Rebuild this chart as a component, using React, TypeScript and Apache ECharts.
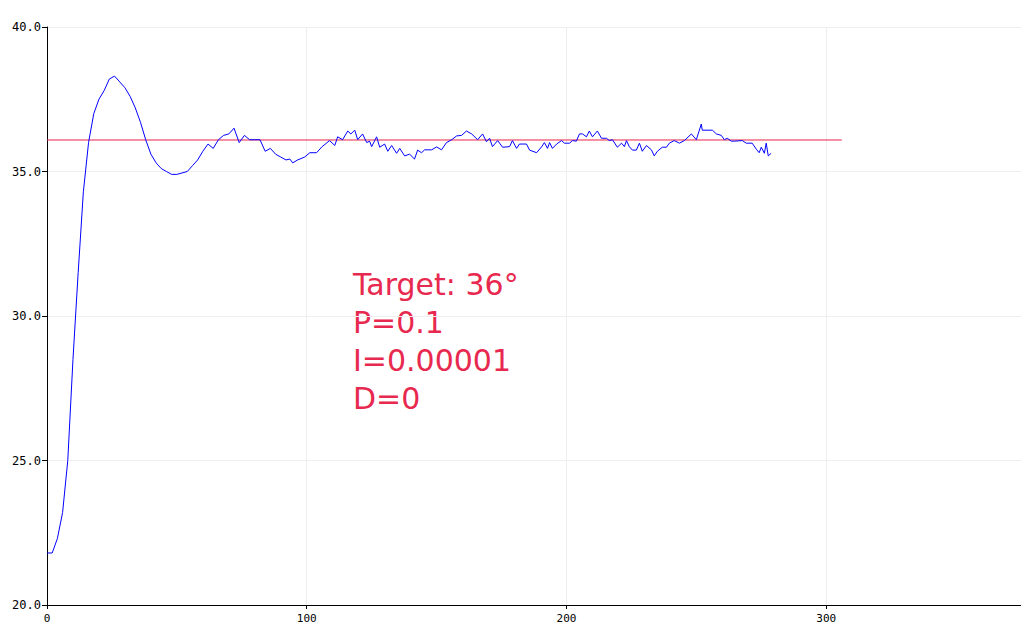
import React, { useEffect, useRef } from 'react';
import * as echarts from 'echarts';

const xs: number[] = [
  0, 2, 4, 6, 8, 10, 12, 14, 16, 18, 20, 22, 24, 26, 28, 30, 32, 34, 36, 38,
  40, 42, 44, 46, 48, 50, 52, 54, 56, 58, 60, 62, 64, 66, 68, 70, 72, 74, 76, 78,
  80, 82, 84, 86, 88, 90, 92, 93.5, 94.6, 96.5, 99.2, 101.2, 103.8, 105.8, 108.8, 110.8,
  111.9, 113.8, 115.8, 117, 118.5, 119.6, 121.5, 123.1, 124.2, 125, 126.9, 128.1, 130,
  131.2, 132.7, 134.6, 135.8, 137.7, 139.6, 141.5, 142.7, 144.2, 145.4, 148.1, 150,
  151.9, 153.8, 155.8, 157.7, 159.6, 161.5, 163.5, 165.8, 167.7, 169.2, 170.4, 171.5,
  173.5, 175.4, 178.1, 179.2, 180.8, 181.9, 184.6, 185.8, 188.5, 190.4, 191.5, 192.7,
  193.5, 194.6, 196.2, 198.1, 199.2, 201.2, 202.3, 203.8, 205, 206.2, 207.7, 208.8,
  210, 211.9, 213.5, 215.4, 216.5, 217.7, 219.6, 221.2, 222.3, 223.1, 224.2, 225.4,
  226.9, 228.1, 229.2, 230.8, 232.7, 233.8, 235, 236.9, 238.5, 239.6, 241.5, 243.5,
  245.4, 248.1, 250, 251.9, 252.3, 256.2, 257.7, 259.6, 260.8, 261.9, 263.5, 264.6,
  267.7, 269.2, 271.5, 273.1, 274.2, 275, 276.2, 276.9, 277.7, 278.8,
];

const temps: number[] = [
  21.8, 21.8, 22.3, 23.2, 25.0, 28.5, 31.5, 34.3, 36.0, 37.0, 37.5, 37.8, 38.2, 38.3, 38.1, 37.9, 37.6, 37.2, 36.7, 36.1,
  35.6, 35.3, 35.1, 35.0, 34.9, 34.9, 34.95, 35.0, 35.2, 35.4, 35.7, 35.95, 35.8, 36.1, 36.25, 36.3, 36.5, 36.0, 36.25, 36.1,
  36.1, 36.1, 35.7, 35.8, 35.6, 35.5, 35.4, 35.43, 35.3, 35.4, 35.5, 35.65, 35.65, 35.85, 36.07, 35.9,
  36.2, 36.1, 36.4, 36.3, 36.43, 36.1, 36.3, 36.0, 36.05, 35.86, 36.2, 35.84, 35.95,
  35.7, 35.9, 35.63, 35.8, 35.54, 35.6, 35.43, 35.74, 35.65, 35.75, 35.75, 35.85,
  35.75, 36.0, 36.1, 36.23, 36.25, 36.4, 36.3, 36.1, 36.3, 36.03, 36.15, 35.86,
  36.07, 35.84, 35.86, 36.07, 35.8, 35.95, 35.95, 35.74, 35.65, 35.85, 36.0, 35.8,
  36.0, 35.8, 35.95, 36.07, 35.98, 35.98, 36.07, 36.05, 36.3, 36.3, 36.2, 36.4,
  36.2, 36.4, 36.15, 36.15, 36.07, 36.1, 35.84, 35.98, 35.86, 36.07, 35.86, 35.74,
  35.74, 35.98, 35.7, 35.9, 35.75, 35.54, 35.7, 35.84, 35.84, 35.98, 36.07, 35.98,
  36.07, 36.3, 36.1, 36.64, 36.43, 36.43, 36.3, 36.25, 36.1, 36.15, 36.05, 36.05,
  36.07, 35.98, 35.98, 35.77, 35.65, 35.84, 35.63, 35.98, 35.54, 35.63,
];

const targetXs: number[] = [0, 306];
const targetValue = 36.09;

const noteLines: string[] = ['Target: 36°', 'P=0.1', 'I=0.00001', 'D=0'];

const App: React.FC = () => {
  const chartRef = useRef<HTMLDivElement>(null);

  useEffect(() => {
    if (!chartRef.current) return;
    const chart = echarts.init(chartRef.current, undefined, { renderer: 'svg' });

    const option: echarts.EChartsOption = {
      animation: false,
      grid: { left: 47, right: 0, top: 27, bottom: 31 },
      xAxis: {
        type: 'value',
        min: 0,
        max: 375,
        interval: 100,
        axisLine: { lineStyle: { color: '#000' } },
        axisTick: { show: true, length: 4, lineStyle: { color: '#000' } },
        axisLabel: { color: '#000', fontFamily: 'DejaVu Sans Mono', fontSize: 11, showMaxLabel: false },
        splitLine: { lineStyle: { color: '#eeeeee' } },
      },
      yAxis: {
        type: 'value',
        min: 20,
        max: 40,
        interval: 5,
        axisLine: { show: true, lineStyle: { color: '#000' } },
        axisTick: { show: true, length: 5, lineStyle: { color: '#000' } },
        axisLabel: {
          color: '#000',
          fontFamily: 'DejaVu Sans Mono',
          fontSize: 12,
          margin: 6,
          formatter: (v: number) => v.toFixed(1),
        },
        splitLine: { lineStyle: { color: '#eeeeee' } },
      },
      series: [
        {
          type: 'line',
          data: targetXs.map((x) => [x, targetValue]),
          showSymbol: false,
          lineStyle: { color: '#e8214b', width: 1 },
        },
        {
          type: 'line',
          data: xs.map((x, i) => [x, temps[i]]),
          showSymbol: false,
          lineStyle: { color: '#0000ff', width: 1 },
        },
      ],
      graphic: noteLines.map((t, i) => ({
        type: 'text',
        left: 353,
        top: 269 + i * 38,
        style: { text: t, fill: '#e8294f', font: '30px "DejaVu Sans"' },
      })),
    };

    chart.setOption(option);
    return () => chart.dispose();
  }, []);

  return (
    <div
      ref={chartRef}
      style={{ position: 'absolute', left: 0, top: 0, width: '1021px', height: '636px', background: '#fff' }}
    />
  );
};

export default App;
